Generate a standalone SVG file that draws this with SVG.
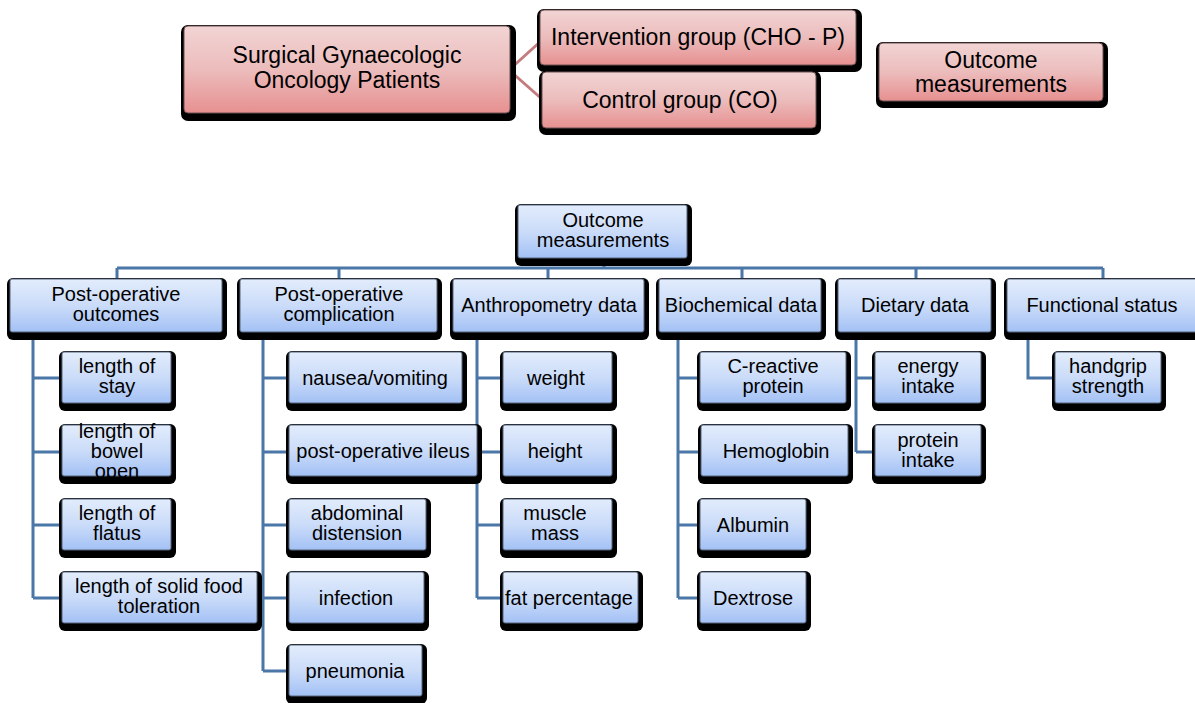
<svg xmlns="http://www.w3.org/2000/svg" width="1195" height="703" viewBox="0 0 1195 703">
<defs>
<linearGradient id="gb" x1="0" y1="0" x2="0" y2="1">
<stop offset="0" stop-color="#e2ecfc"/><stop offset="0.5" stop-color="#cbdcf9"/><stop offset="1" stop-color="#a3c1f5"/>
</linearGradient>
<linearGradient id="gp" x1="0" y1="0" x2="0" y2="1">
<stop offset="0" stop-color="#f2d4d4"/><stop offset="0.5" stop-color="#ecbcbc"/><stop offset="1" stop-color="#e79090"/>
</linearGradient>
<style>
.sh{fill:#000}
.b{fill:url(#gb);stroke:#56657a;stroke-width:1}
.p{fill:url(#gp);stroke:#6a5050;stroke-width:1}
text{font-family:"Liberation Sans",Arial,sans-serif;fill:#000;text-anchor:middle}
.t{font-size:20px}
.tp{font-size:23px}
.c{fill:none;stroke:#4a76a8;stroke-width:3}
.cp{fill:none;stroke:#c47c7e;stroke-width:3}
</style>
</defs>
<rect width="1195" height="703" fill="#fff"/>

<g id="connectors">
<path class="cp" d="M509 70 L541 41 M509 70 L543 100"/>
<path class="c" d="M604 258 V268 M117 268 H1103 M117 268 V279 M339 268 V279 M548 268 V279 M742 268 V279 M916 268 V279 M1103 268 V279"/>
<path class="c" d="M33 332 V598 M33 378 H62 M33 452 H62 M33 525 H62 M33 598 H62"/>
<path class="c" d="M263 332 V671 M263 378 H289 M263 452 H289 M263 525 H289 M263 598 H289 M263 671 H289"/>
<path class="c" d="M477 332 V598 M477 378 H503 M477 452 H503 M477 525 H503 M477 598 H503"/>
<path class="c" d="M678 332 V598 M678 378 H700 M678 452 H700 M678 525 H700 M678 598 H700"/>
<path class="c" d="M856 332 V452 M856 378 H875 M856 452 H875"/>
<path class="c" d="M1028 332 V378 H1055"/>
</g>

<g id="surgical">
<rect class="sh" x="181" y="25" width="335" height="96" rx="7"/>
<rect class="p" x="184" y="26" width="326" height="87" rx="4"/>
<text class="tp" x="347" y="63">Surgical Gynaecologic</text>
<text class="tp" x="347" y="88">Oncology Patients</text>
</g>
<g id="intervention">
<rect class="sh" x="537" y="9" width="325" height="63" rx="7"/>
<rect class="p" x="540" y="10" width="316" height="55" rx="4"/>
<text class="tp" x="698" y="45">Intervention group (CHO - P)</text>
</g>
<g id="control">
<rect class="sh" x="539" y="71" width="282" height="64" rx="7"/>
<rect class="p" x="542" y="72" width="274" height="56" rx="4"/>
<text class="tp" x="680" y="108">Control group (CO)</text>
</g>
<g id="outcome-top">
<rect class="sh" x="876" y="42" width="232" height="66" rx="7"/>
<rect class="p" x="879" y="43" width="224" height="58" rx="4"/>
<text class="tp" x="991" y="68">Outcome</text>
<text class="tp" x="991" y="92">measurements</text>
</g>

<g id="root">
<rect class="sh" x="515" y="204" width="177" height="62" rx="6"/>
<rect class="b" x="518" y="205" width="169" height="53" rx="2"/>
<text class="t" x="603" y="227">Outcome</text>
<text class="t" x="603" y="247">measurements</text>
</g>

<g id="post-op-outcomes">
<rect class="sh" x="7" y="278" width="220" height="62" rx="6"/>
<rect class="b" x="10" y="279" width="212" height="53" rx="2"/>
<text class="t" x="116" y="301">Post-operative</text>
<text class="t" x="116" y="321">outcomes</text>
</g>
<g id="post-op-complication">
<rect class="sh" x="237" y="278" width="205" height="62" rx="6"/>
<rect class="b" x="240" y="279" width="197" height="53" rx="2"/>
<text class="t" x="339" y="301">Post-operative</text>
<text class="t" x="339" y="321">complication</text>
</g>
<g id="anthropometry">
<rect class="sh" x="450" y="278" width="199" height="62" rx="6"/>
<rect class="b" x="453" y="279" width="191" height="53" rx="2"/>
<text class="t" x="549" y="312">Anthropometry data</text>
</g>
<g id="biochemical">
<rect class="sh" x="656" y="278" width="170" height="62" rx="6"/>
<rect class="b" x="659" y="279" width="162" height="53" rx="2"/>
<text class="t" x="741" y="312">Biochemical data</text>
</g>
<g id="dietary">
<rect class="sh" x="835" y="278" width="161" height="62" rx="6"/>
<rect class="b" x="838" y="279" width="153" height="53" rx="2"/>
<text class="t" x="915" y="312">Dietary data</text>
</g>
<g id="functional">
<rect class="sh" x="1004" y="278" width="200" height="62" rx="6"/>
<rect class="b" x="1007" y="279" width="192" height="53" rx="2"/>
<text class="t" x="1102" y="312">Functional status</text>
</g>

<g id="length-stay">
<rect class="sh" x="59" y="351" width="117" height="60" rx="6"/>
<rect class="b" x="62" y="352" width="109" height="51" rx="2"/>
<text class="t" x="117" y="373">length of</text>
<text class="t" x="117" y="393">stay</text>
</g>
<g id="length-bowel">
<rect class="sh" x="59" y="424" width="117" height="60" rx="6"/>
<rect class="b" x="62" y="425" width="109" height="51" rx="2"/>
<text class="t" x="117" y="438">length of</text>
<text class="t" x="117" y="458">bowel</text>
<text class="t" x="117" y="478">open</text>
</g>
<g id="length-flatus">
<rect class="sh" x="59" y="498" width="117" height="60" rx="6"/>
<rect class="b" x="62" y="499" width="109" height="51" rx="2"/>
<text class="t" x="117" y="520">length of</text>
<text class="t" x="117" y="540">flatus</text>
</g>
<g id="length-solid">
<rect class="sh" x="59" y="571" width="203" height="60" rx="6"/>
<rect class="b" x="62" y="572" width="195" height="51" rx="2"/>
<text class="t" x="159" y="593">length of solid food</text>
<text class="t" x="159" y="613">toleration</text>
</g>

<g id="nausea">
<rect class="sh" x="286" y="351" width="181" height="60" rx="6"/>
<rect class="b" x="289" y="352" width="173" height="51" rx="2"/>
<text class="t" x="375" y="385">nausea/vomiting</text>
</g>
<g id="ileus">
<rect class="sh" x="286" y="424" width="196" height="60" rx="6"/>
<rect class="b" x="289" y="425" width="188" height="51" rx="2"/>
<text class="t" x="383" y="458">post-operative ileus</text>
</g>
<g id="abdominal">
<rect class="sh" x="286" y="498" width="145" height="60" rx="6"/>
<rect class="b" x="289" y="499" width="137" height="51" rx="2"/>
<text class="t" x="357" y="520">abdominal</text>
<text class="t" x="357" y="540">distension</text>
</g>
<g id="infection">
<rect class="sh" x="286" y="571" width="143" height="60" rx="6"/>
<rect class="b" x="289" y="572" width="135" height="51" rx="2"/>
<text class="t" x="356" y="605">infection</text>
</g>
<g id="pneumonia">
<rect class="sh" x="286" y="644" width="141" height="60" rx="6"/>
<rect class="b" x="289" y="645" width="133" height="51" rx="2"/>
<text class="t" x="355" y="678">pneumonia</text>
</g>

<g id="weight">
<rect class="sh" x="500" y="351" width="117" height="60" rx="6"/>
<rect class="b" x="503" y="352" width="109" height="51" rx="2"/>
<text class="t" x="556" y="385">weight</text>
</g>
<g id="height">
<rect class="sh" x="500" y="424" width="117" height="60" rx="6"/>
<rect class="b" x="503" y="425" width="109" height="51" rx="2"/>
<text class="t" x="555" y="458">height</text>
</g>
<g id="muscle">
<rect class="sh" x="500" y="498" width="117" height="60" rx="6"/>
<rect class="b" x="503" y="499" width="109" height="51" rx="2"/>
<text class="t" x="555" y="520">muscle</text>
<text class="t" x="555" y="540">mass</text>
</g>
<g id="fat">
<rect class="sh" x="500" y="571" width="143" height="60" rx="6"/>
<rect class="b" x="503" y="572" width="135" height="51" rx="2"/>
<text class="t" x="569" y="605">fat percentage</text>
</g>

<g id="crp">
<rect class="sh" x="697" y="351" width="154" height="60" rx="6"/>
<rect class="b" x="700" y="352" width="146" height="51" rx="2"/>
<text class="t" x="773" y="373">C-reactive</text>
<text class="t" x="773" y="393">protein</text>
</g>
<g id="hemoglobin">
<rect class="sh" x="698" y="424" width="155" height="60" rx="6"/>
<rect class="b" x="701" y="425" width="147" height="51" rx="2"/>
<text class="t" x="776" y="458">Hemoglobin</text>
</g>
<g id="albumin">
<rect class="sh" x="697" y="498" width="114" height="60" rx="6"/>
<rect class="b" x="700" y="499" width="106" height="51" rx="2"/>
<text class="t" x="753" y="532">Albumin</text>
</g>
<g id="dextrose">
<rect class="sh" x="697" y="571" width="114" height="60" rx="6"/>
<rect class="b" x="700" y="572" width="106" height="51" rx="2"/>
<text class="t" x="753" y="605">Dextrose</text>
</g>

<g id="energy">
<rect class="sh" x="872" y="351" width="114" height="60" rx="6"/>
<rect class="b" x="875" y="352" width="106" height="51" rx="2"/>
<text class="t" x="928" y="373">energy</text>
<text class="t" x="928" y="393">intake</text>
</g>
<g id="protein">
<rect class="sh" x="872" y="424" width="114" height="60" rx="6"/>
<rect class="b" x="875" y="425" width="106" height="51" rx="2"/>
<text class="t" x="928" y="447">protein</text>
<text class="t" x="928" y="467">intake</text>
</g>

<g id="handgrip">
<rect class="sh" x="1052" y="351" width="114" height="60" rx="6"/>
<rect class="b" x="1055" y="352" width="106" height="51" rx="2"/>
<text class="t" x="1108" y="373">handgrip</text>
<text class="t" x="1108" y="393">strength</text>
</g>
</svg>
